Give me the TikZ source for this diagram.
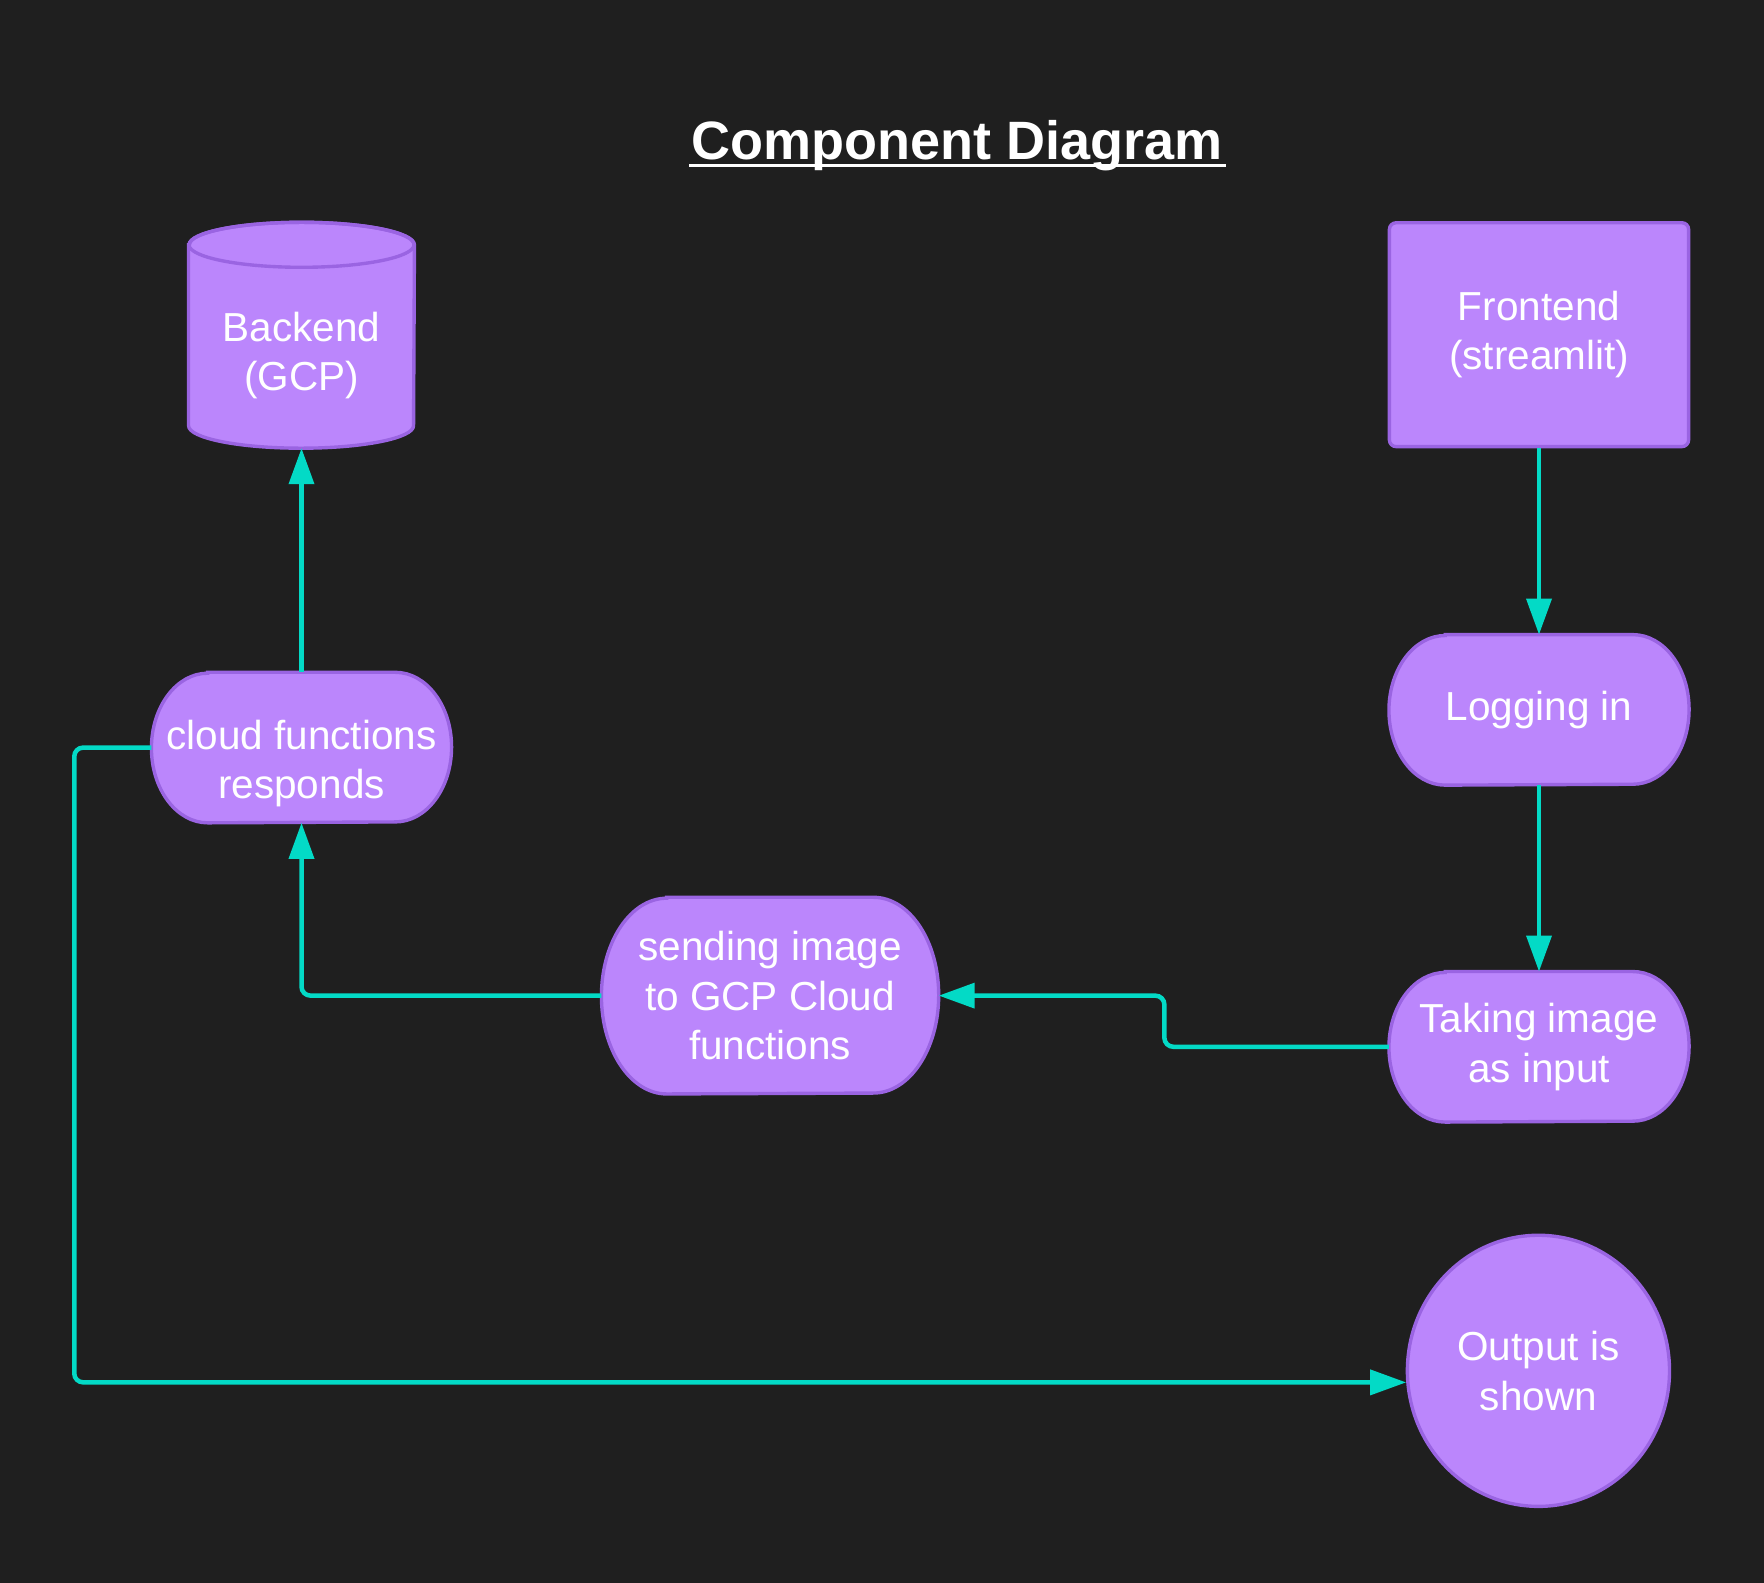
\documentclass[tikz,border=0pt]{standalone}
\usepackage{fontspec}
\setmainfont{Liberation Sans}
\usepackage{tikz}
\usetikzlibrary{positioning,arrows.meta,calc,shapes,backgrounds}
\definecolor{bgdark}{HTML}{1F1F1F}
\definecolor{compfill}{HTML}{BB86FC}
\definecolor{compline}{HTML}{9A64E2}
\definecolor{flowline}{HTML}{03DAC6}
% #1 node, #2 x radius, #3 y radius of the round ends
\newcommand\pillshape[3]{\filldraw[shapeline] ($(#1.north west)+(#2,0)$) -- ($(#1.north east)+(-#2,0)$)
  arc[start angle=-90,end angle=90,x radius=#2,y radius=#3] -- ($(#1.south west)+(#2,0)$)
  arc[start angle=90,end angle=270,x radius=#2,y radius=#3] -- cycle;}

\begin{document}
\begin{tikzpicture}[x=0.5pt,y=-0.5pt]
\tikzset{bodytext/.style={text=white,align=center,font=\fontsize{18}{22}\selectfont},
shapeline/.style={draw=compline,fill=compfill,line width=1.5pt},
comp/.style={shapeline,bodytext},
pill/.style={bodytext,minimum width=133pt,minimum height=66.5pt},
flow/.style={draw=flowline,line width=2pt,rounded corners=4pt,-{Triangle[length=16pt,width=11pt]}}}

\node[text=white,font=\fontsize{24}{28}\selectfont\bfseries,anchor=base,inner sep=0pt](title) at (851,142) {Component Diagram};
\draw[white,line width=1.5pt] ($(title.base west)+(-2,5)$) -- ($(title.base east)+(2,5)$);

%components
\node[minimum width=100pt,minimum height=100pt,
  label={[bodytext,yshift=-9pt]center:{Backend\\(GCP)}}](backend) at (268,298) {};
\node[comp,rounded corners=3pt,minimum width=133pt,minimum height=99.5pt](front) at (1368,297.5) {Frontend\\(streamlit)};
\node[pill](login) at (1368,631) {Logging in};
\node[pill](take) at (1368,930.5) {Taking image\\as input};
\node[pill,minimum width=149.5pt,minimum height=87pt](send) at (684.5,885) {sending image\\to GCP Cloud\\functions};
\node[pill,label={[bodytext,yshift=-7pt]center:{cloud functions\\responds}}](cloud) at (268,664.5) {};
\node[comp,ellipse,minimum width=116.5pt,minimum height=120.5pt](out) at (1367.5,1218.5) {Output is\\shown};

\begin{scope}[on background layer]
\fill[bgdark] (0,0) rectangle (1568,1407);
\filldraw[shapeline] ($(backend.north west)+(0,20)$) -- ($(backend.south west)+(0,-20)$)
  arc[start angle=180,end angle=0,x radius=100,y radius=20] -- ($(backend.north east)+(0,20)$)
  arc[start angle=0,end angle=-180,x radius=100,y radius=20] -- cycle;
\draw[shapeline,fill=none] ($(backend.north)+(0,20)$) ellipse[x radius=100,y radius=20];
\pillshape{login}{50}{66.5}
\pillshape{take}{50}{66.5}
\pillshape{cloud}{50}{66.5}
\pillshape{send}{58}{87}
\end{scope}
\useasboundingbox (0,0) rectangle (1568,1407);

%connectors
\draw[flow] (front.south) -- (login.north);
\draw[flow] (login.south) -- (take.north);
\draw[flow] (take.west) -| (1035,908) |- (send.east);
\draw[flow] (send.west) -| (cloud.south);
\draw[flow] (cloud.north) -- (backend.south);
\draw[flow] (cloud.west) -| (66,1000) |- (out.185);
\end{tikzpicture}
\end{document}
